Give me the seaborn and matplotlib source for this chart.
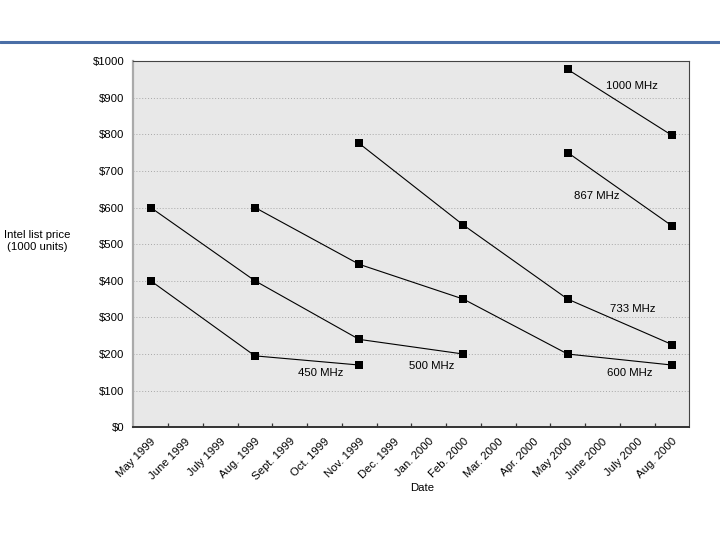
import numpy as np
import pandas as pd
import matplotlib
matplotlib.use("Agg")
import matplotlib.pyplot as plt
from matplotlib.lines import Line2D
import seaborn as sns

# ---- data ----
months = ["May 1999", "June 1999", "July 1999", "Aug. 1999", "Sept. 1999",
          "Oct. 1999", "Nov. 1999", "Dec. 1999", "Jan. 2000", "Feb. 2000",
          "Mar. 2000", "Apr. 2000", "May 2000", "June 2000", "July 2000",
          "Aug. 2000"]

mhz450_months = ["May 1999", "Aug. 1999", "Nov. 1999"]
mhz450_prices = [400, 195, 170]

mhz500_months = ["May 1999", "Aug. 1999", "Nov. 1999", "Feb. 2000"]
mhz500_prices = [600, 400, 240, 200]

mhz600_months = ["Aug. 1999", "Nov. 1999", "Feb. 2000", "May 2000", "Aug. 2000"]
mhz600_prices = [600, 445, 350, 200, 170]

mhz733_months = ["Nov. 1999", "Feb. 2000", "May 2000", "Aug. 2000"]
mhz733_prices = [775, 552, 350, 226]

mhz867_months = ["May 2000", "Aug. 2000"]
mhz867_prices = [750, 550]

mhz1000_months = ["May 2000", "Aug. 2000"]
mhz1000_prices = [977, 797]

series_names = ["450 MHz", "500 MHz", "600 MHz", "733 MHz", "867 MHz", "1000 MHz"]
series_months = [mhz450_months, mhz500_months, mhz600_months,
                 mhz733_months, mhz867_months, mhz1000_months]
series_prices = [mhz450_prices, mhz500_prices, mhz600_prices,
                 mhz733_prices, mhz867_prices, mhz1000_prices]

y_ticks = [0, 100, 200, 300, 400, 500, 600, 700, 800, 900, 1000]
y_tick_labels = ["$" + str(v) for v in y_ticks]

# label placement (category index, price level)
label_pos = {"450 MHz": (4.9, 147), "500 MHz": (8.1, 167), "600 MHz": (13.78, 147),
             "733 MHz": (13.88, 322), "867 MHz": (12.84, 631), "1000 MHz": (13.85, 932)}

rows = []
for name, ms, ps in zip(series_names, series_months, series_prices):
    for m, p in zip(ms, ps):
        rows.append({"cpu": name, "idx": months.index(m), "price": p})
df = pd.DataFrame(rows)

# ---- style ----
sns.set_theme(style="ticks")
plt.rcParams["font.family"] = ["Liberation Sans", "DejaVu Sans"]
plt.rcParams["font.size"] = 8.2
plt.rcParams["text.color"] = "black"

fig = plt.figure(figsize=(7.2, 5.4), dpi=100)
ax = fig.add_axes([133.3 / 720, 1 - 427.3 / 540, 556 / 720, 366.3 / 540])
ax.set_facecolor("#e8e8e8")

sns.lineplot(data=df, x="idx", y="price", hue="cpu", palette=["black"] * 6,
             marker="s", markersize=5.8, markeredgewidth=0, linewidth=0.8,
             estimator=None, sort=False, legend=False, ax=ax, zorder=3)

ax.set_xlim(-0.5, len(months) - 0.5)
ax.set_ylim(0, 1000)

# x ticks: marks at boundaries, labels at centers
ax.set_xticks(np.arange(0.5, len(months) - 0.5, 1.0))
ax.set_xticklabels([])
ax.tick_params(axis="x", which="major", direction="in", length=3, width=0.9,
               color="#333333")
ax.set_xticks(np.arange(len(months)), labels=months, minor=True)
ax.tick_params(axis="x", which="minor", length=0, pad=6.5, labelsize=8.2,
               labelcolor="black")
for lab in ax.get_xticklabels(minor=True):
    lab.set_rotation(45)
    lab.set_rotation_mode("anchor")
    lab.set_ha("right")
    lab.set_va("top")

ax.set_yticks(y_ticks, labels=y_tick_labels)
ax.tick_params(axis="y", length=0, pad=6.5, labelsize=8.2, labelcolor="black")

ax.yaxis.grid(True, linestyle=(0, (1, 2)), color="#a8a8a8", linewidth=0.7)
ax.xaxis.grid(False)
ax.set_axisbelow(True)

for s in ["top", "right"]:
    ax.spines[s].set_color("#444444")
    ax.spines[s].set_linewidth(0.8)
ax.spines["left"].set_color("#aaaaaa")
ax.spines["left"].set_linewidth(1.6)
ax.spines["bottom"].set_color("#333333")
ax.spines["bottom"].set_linewidth(1.4)

ax.set_xlabel("Date", fontsize=8.2, color="black")
ax.xaxis.set_label_coords(0.519, -0.165)
ax.xaxis.label.set_va("center")
ax.set_ylabel("Intel list price\n(1000 units)", fontsize=8.2, rotation=0,
              ha="center", va="center", multialignment="center", color="black")
ax.yaxis.set_label_coords(-0.173, 0.509)

for name in series_names:
    x, y = label_pos[name]
    ax.text(x, y, name, ha="center", va="center", fontsize=8.2, color="black",
            zorder=4)

fig.add_artist(Line2D([0, 1], [1 - 41.7 / 540] * 2, color="#4a6ea6",
                      linewidth=2.2, transform=fig.transFigure))

fig.savefig("out.png", dpi=100, facecolor="white")
